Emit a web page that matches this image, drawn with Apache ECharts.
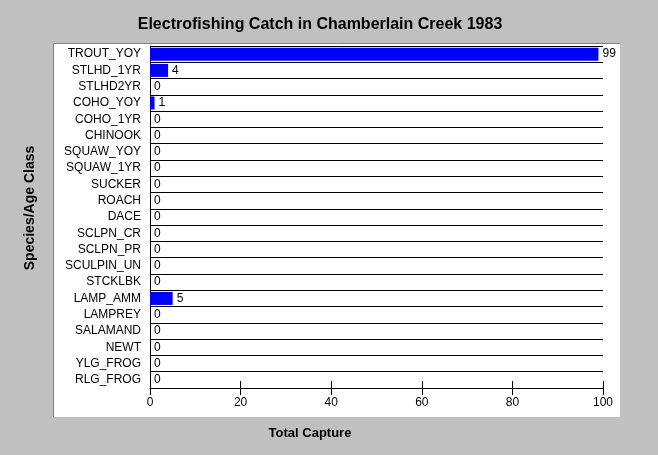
<!DOCTYPE html>
<html><head><meta charset="utf-8">
<script src="https://cdn.jsdelivr.net/npm/echarts@6/dist/echarts.min.js"></script>
<style>html,body{margin:0;padding:0;background:#c0c0c0;}#c{width:658px;height:455px;}</style>
</head><body><div id="c"></div>
<script>
const categories = ["TROUT_YOY","STLHD_1YR","STLHD2YR","COHO_YOY","COHO_1YR","CHINOOK","SQUAW_YOY","SQUAW_1YR","SUCKER","ROACH","DACE","SCLPN_CR","SCLPN_PR","SCULPIN_UN","STCKLBK","LAMP_AMM","LAMPREY","SALAMAND","NEWT","YLG_FROG","RLG_FROG"];
const totalCapture = [99,4,0,1,0,0,0,0,0,0,0,0,0,0,0,5,0,0,0,0,0];
const xTicks = [0,20,40,60,80,100];

const chart = echarts.init(document.getElementById('c'), null, {renderer:'canvas'});
const font = 'Arial, "Liberation Sans", sans-serif';
chart.setOption({
  backgroundColor:'#c0c0c0',
  animation:false,
  graphic:[
    {type:'rect', z:-10, shape:{x:53,y:43,width:567,height:374}, style:{fill:'#fff', stroke:null}},
    {type:'line', z:-9, shape:{x1:53.5,y1:43.5,x2:620,y2:43.5}, style:{stroke:'#808080',lineWidth:1}},
    {type:'line', z:-9, shape:{x1:53.5,y1:43.5,x2:53.5,y2:417}, style:{stroke:'#808080',lineWidth:1}},
    {type:'text', x:320, y:25, style:{text:'Electrofishing Catch in Chamberlain Creek 1983', font:'bold 16px '+font, fill:'#000', textAlign:'center', textVerticalAlign:'middle'}},
    {type:'text', x:30, y:208, rotation:Math.PI/2, style:{text:'Species/Age Class', font:'bold 14px '+font, fill:'#000', textAlign:'center', textVerticalAlign:'middle'}},
    {type:'text', x:310, y:433, style:{text:'Total Capture', font:'bold 13px '+font, fill:'#000', textAlign:'center', textVerticalAlign:'middle'}}
  ],
  grid:{left:150, right:55, top:46, bottom:67, containLabel:false},
  xAxis:[
    {type:'value', min:0, max:100, interval:20, position:'bottom',
     axisLine:{show:true, lineStyle:{color:'#000'}},
     axisTick:{show:true, inside:false, length:7, lineStyle:{color:'#000'}},
     axisLabel:{color:'#000', fontFamily:font, fontSize:12, margin:9},
     splitLine:{show:false}},
    {type:'value', min:0, max:100, interval:20, position:'bottom', gridIndex:0,
     axisLine:{show:false},
     axisTick:{show:true, inside:true, length:7, lineStyle:{color:'#000'}},
     axisLabel:{show:false}, splitLine:{show:false}}
  ],
  yAxis:{type:'category', data:categories, inverse:true,
    axisLine:{show:true, lineStyle:{color:'#000'}},
    axisTick:{show:false},
    axisLabel:{color:'#000', fontFamily:font, fontSize:12, margin:9},
    splitLine:{show:true, lineStyle:{color:'#000', width:1}}},
  series:[{type:'bar', data:totalCapture, xAxisIndex:0, barCategoryGap:'20%',
    itemStyle:{color:'#0000ff'},
    label:{show:true, position:'right', distance:4, color:'#000', fontFamily:font, fontSize:12}}]
});
</script></body></html>
